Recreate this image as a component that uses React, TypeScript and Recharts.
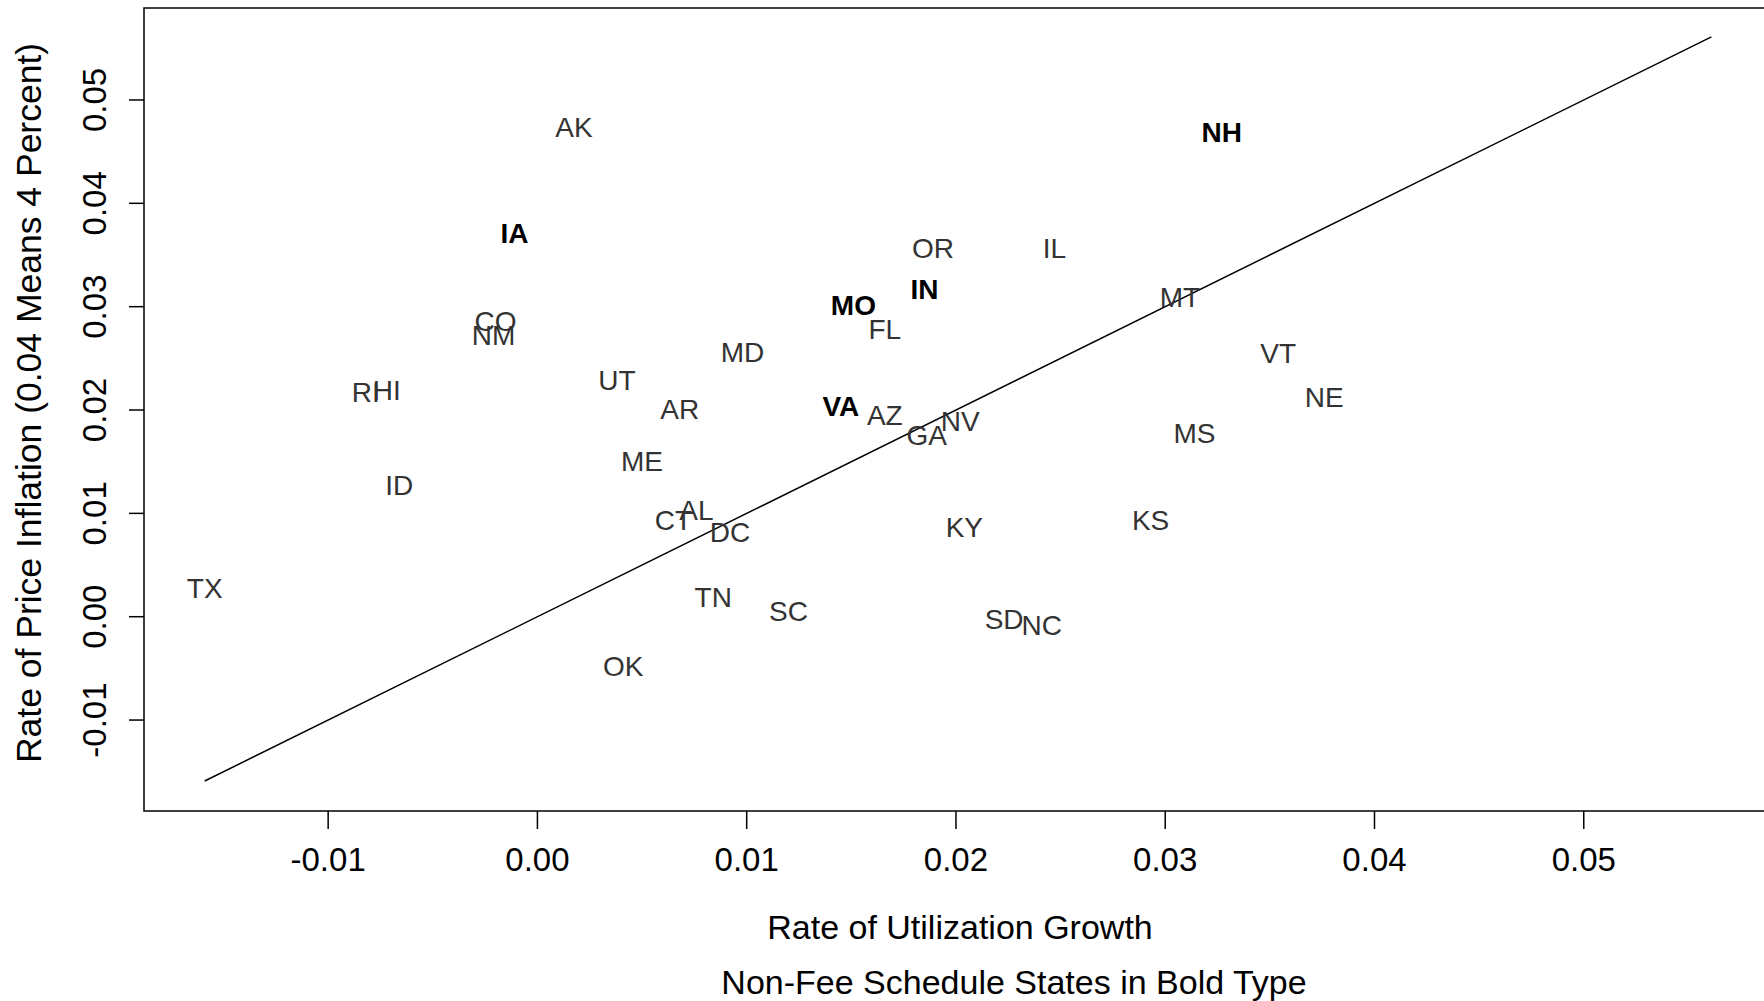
import { ScatterChart, Scatter, XAxis, YAxis, ReferenceArea } from "recharts";

// state labels
const states = [
  "AK", "IA", "CO", "NM", "RI", "HI", "ID", "TX", "UT", "AR", "ME", "CT",
  "AL", "DC", "TN", "SC", "OK", "MD", "MO", "FL", "IN", "OR", "IL", "VA",
  "AZ", "GA", "NV", "KY", "SD", "NC", "KS", "MS", "MT", "NH", "VT", "NE",
];

const utilizationGrowth = [
  0.00175, -0.0011, -0.002, -0.0021, -0.0082, -0.0072, -0.0066, -0.0159,
  0.0038, 0.0068, 0.005, 0.0065, 0.0076, 0.0092, 0.0084, 0.012, 0.0041,
  0.0098, 0.0151, 0.0166, 0.0185, 0.0189, 0.0247, 0.0145, 0.0166, 0.0186,
  0.0202, 0.0204, 0.0223, 0.0241, 0.0293, 0.0314, 0.0307, 0.0327, 0.0354,
  0.0376,
];

const priceInflation = [
  0.0474, 0.0371, 0.0286, 0.0273, 0.0217, 0.0219, 0.0127, 0.0028, 0.0229,
  0.0201, 0.0151, 0.0094, 0.0103, 0.0082, 0.0019, 0.0006, -0.0048, 0.0256,
  0.0302, 0.0278, 0.0317, 0.0357, 0.0357, 0.0204, 0.0195, 0.0176, 0.0189,
  0.0087, -0.0002, -0.0008, 0.0094, 0.0178, 0.0309, 0.0469, 0.0255, 0.0213,
];

// non-fee schedule states are printed in bold
const nonFeeStates = ["IA", "MO", "IN", "VA", "NH"];

const lineEnds = [-0.0159, 0.0561];
const axisTicks = [-0.01, 0, 0.01, 0.02, 0.03, 0.04, 0.05];
const domain = [-0.0188, 0.0589];

const FONT = '"Liberation Sans", Arial, Helvetica, sans-serif';

const points = states.map((s, i) => ({
  state: s,
  x: utilizationGrowth[i],
  y: priceInflation[i],
  bold: nonFeeStates.includes(s),
}));

const diagonal = lineEnds.map((v) => ({ x: v, y: v }));

const StateLabel = (props: any) => {
  const { cx, cy, payload } = props;
  return (
    <text
      x={cx}
      y={cy + 10}
      textAnchor="middle"
      fontFamily={FONT}
      fontSize={28}
      fontWeight={payload.bold ? "bold" : "normal"}
      fill={payload.bold ? "#000" : "#333"}
    >
      {payload.state}
    </text>
  );
};

const XTick = (props: any) => (
  <text x={props.x} y={props.y + 42} textAnchor="middle" fontFamily={FONT} fontSize={33} fill="#000">
    {props.payload.value.toFixed(2)}
  </text>
);

const YTick = (props: any) => {
  const bx = props.x - 23;
  return (
    <text
      x={bx}
      y={props.y}
      transform={`rotate(-90, ${bx}, ${props.y})`}
      textAnchor="middle"
      fontFamily={FONT}
      fontSize={33}
      fill="#000"
    >
      {props.payload.value.toFixed(2)}
    </text>
  );
};

export default function App() {
  return (
    <div style={{ position: "absolute", left: 0, top: 0, width: 1764, height: 1001, overflow: "hidden", background: "#fff" }}>
      <ScatterChart width={1770} height={1001} margin={{ top: 8, right: 0, bottom: 130, left: 0 }}>
        <XAxis
          type="number"
          dataKey="x"
          domain={domain}
          ticks={axisTicks}
          allowDataOverflow
          axisLine={false}
          tickSize={18}
          tickMargin={0}
          tickLine={{ stroke: "#000", strokeWidth: 1.5 }}
          tick={<XTick />}
          height={60}
        />
        <YAxis
          type="number"
          dataKey="y"
          domain={domain}
          ticks={axisTicks}
          allowDataOverflow
          axisLine={false}
          tickSize={15}
          tickMargin={0}
          tickLine={{ stroke: "#000", strokeWidth: 1.5 }}
          tick={<YTick />}
          width={144}
        />
        <ReferenceArea
          x1={domain[0]}
          x2={domain[1]}
          y1={domain[0]}
          y2={domain[1]}
          fill="none"
          stroke="#000"
          strokeWidth={1.5}
          ifOverflow="visible"
        />
        <Scatter
          data={diagonal}
          line={{ stroke: "#000", strokeWidth: 1.5 }}
          shape={() => <g />}
          isAnimationActive={false}
        />
        <Scatter data={points} shape={<StateLabel />} isAnimationActive={false} />
      </ScatterChart>
      <svg width={1764} height={1001} style={{ position: "absolute", left: 0, top: 0, pointerEvents: "none" }}>
        <text x={960} y={939} textAnchor="middle" fontFamily={FONT} fontSize={34} fill="#000">
          Rate of Utilization Growth
        </text>
        <text x={1014} y={994} textAnchor="middle" fontFamily={FONT} fontSize={34} fill="#000">
          Non-Fee Schedule States in Bold Type
        </text>
        <text
          x={41}
          y={403}
          transform="rotate(-90, 41, 403)"
          textAnchor="middle"
          fontFamily={FONT}
          fontSize={35.5}
          fill="#000"
        >
          Rate of Price Inflation (0.04 Means 4 Percent)
        </text>
      </svg>
    </div>
  );
}
